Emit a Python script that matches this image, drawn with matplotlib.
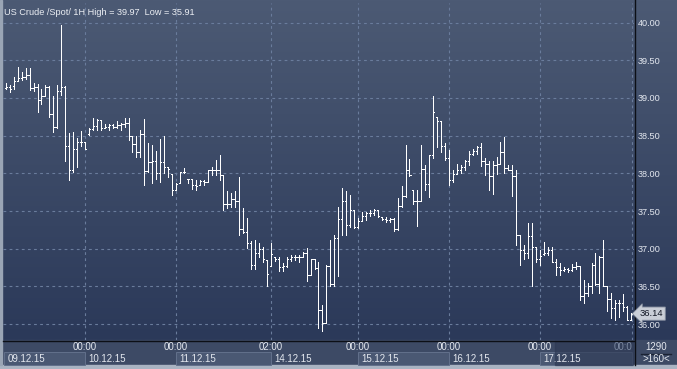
import numpy as np
import matplotlib.pyplot as plt
from matplotlib.collections import LineCollection
from matplotlib.patches import Rectangle
from matplotlib import transforms

plt.rcParams['font.family'] = ['Liberation Sans', 'DejaVu Sans']

# hourly OHLC, US Crude spot
opens = [39.13, 39.15, 39.16, 39.22, 39.26, 39.28, 39.30, 39.13, 39.15, 38.97,
         39.03, 39.15, 38.79, 38.61, 39.09, 39.15, 38.36, 38.05, 38.32, 38.41,
         38.41, 38.52, 38.59, 38.63, 38.71, 38.60, 38.62, 38.64, 38.62, 38.64,
         38.66, 38.67, 38.50, 38.39, 38.28, 38.52, 38.03, 38.15, 38.17, 38.00,
         38.15, 38.08, 37.99, 37.78, 37.87, 38.02, 37.93, 37.92, 37.84, 37.85,
         37.90, 37.89, 38.04, 38.04, 38.05, 37.98, 37.60, 37.60, 37.66, 37.64,
         37.26, 37.22, 37.07, 36.79, 36.95, 37.00, 36.85, 36.77, 36.89, 36.86,
         36.76, 36.77, 36.86, 36.89, 36.89, 36.89, 36.94, 36.65, 36.86, 36.74,
         36.19, 36.02, 36.77, 36.53, 37.14, 37.39, 37.64, 37.32, 37.51, 37.29,
         37.37, 37.43, 37.48, 37.47, 37.52, 37.42, 37.39, 37.38, 37.39, 37.26,
         37.57, 37.70, 38.04, 37.78, 37.64, 37.64, 38.06, 37.86, 38.25, 38.75,
         38.70, 38.36, 38.20, 37.91, 37.99, 38.05, 38.08, 38.16, 38.26, 38.30,
         38.35, 38.16, 38.13, 37.97, 38.11, 38.13, 38.29, 38.07, 38.05, 37.97,
         37.18, 36.99, 36.94, 37.17, 37.03, 36.86, 36.93, 36.95, 36.99, 36.83,
         36.76, 36.72, 36.73, 36.72, 36.76, 36.77, 36.37, 36.42, 36.50, 36.79,
         36.53, 36.89, 36.50, 36.33, 36.21, 36.28, 36.28, 36.23, 36.06]
highs = [39.20, 39.17, 39.28, 39.41, 39.35, 39.40, 39.40, 39.20, 39.18, 39.12,
         39.17, 39.16, 39.02, 39.17, 39.97, 39.16, 38.53, 38.55, 38.47, 38.56,
         38.41, 38.60, 38.74, 38.72, 38.71, 38.65, 38.66, 38.65, 38.70, 38.67,
         38.74, 38.73, 38.50, 38.49, 38.58, 38.72, 38.40, 38.37, 38.30, 38.45,
         38.49, 38.09, 37.99, 37.87, 38.02, 38.07, 37.93, 37.93, 37.91, 37.91,
         37.91, 38.05, 38.09, 38.18, 38.25, 37.98, 37.77, 37.74, 37.77, 37.95,
         37.54, 37.41, 37.10, 37.11, 37.07, 37.03, 36.85, 37.07, 36.89, 36.89,
         36.81, 36.89, 36.92, 36.92, 36.92, 36.96, 37.01, 36.87, 36.86, 36.83,
         36.26, 36.79, 37.11, 37.18, 37.56, 37.80, 37.76, 37.71, 37.52, 37.41,
         37.49, 37.49, 37.52, 37.53, 37.52, 37.42, 37.42, 37.41, 37.41, 37.67,
         37.83, 38.38, 38.19, 37.78, 37.78, 38.38, 38.11, 38.25, 39.03, 38.75,
         38.70, 38.40, 38.31, 38.05, 38.12, 38.11, 38.18, 38.30, 38.33, 38.36,
         38.40, 38.20, 38.16, 38.16, 38.22, 38.42, 38.48, 38.11, 38.11, 38.05,
         37.18, 37.05, 37.34, 37.34, 37.03, 36.99, 37.09, 37.03, 37.02, 36.86,
         36.81, 36.76, 36.74, 36.80, 36.83, 36.77, 36.59, 36.54, 36.81, 36.94,
         36.91, 37.11, 36.50, 36.41, 36.32, 36.32, 36.40, 36.24, 36.15]
lows = [39.12, 39.08, 39.12, 39.22, 39.24, 39.25, 39.11, 39.09, 38.81, 38.92,
        39.02, 38.75, 38.55, 38.60, 39.04, 38.16, 37.91, 38.02, 38.09, 38.36,
        38.32, 38.51, 38.57, 38.57, 38.58, 38.60, 38.58, 38.60, 38.60, 38.58,
        38.62, 38.44, 38.28, 38.22, 38.22, 37.85, 38.02, 37.87, 37.93, 37.89,
        38.00, 37.95, 37.71, 37.78, 37.87, 38.00, 37.87, 37.79, 37.78, 37.85,
        37.84, 37.89, 37.98, 37.98, 37.91, 37.52, 37.54, 37.56, 37.56, 37.18,
        37.21, 37.01, 36.73, 36.73, 36.89, 36.83, 36.51, 36.77, 36.84, 36.70,
        36.70, 36.76, 36.84, 36.85, 36.83, 36.89, 36.57, 36.65, 36.73, 35.95,
        35.91, 36.01, 36.50, 36.50, 36.64, 37.18, 37.18, 37.29, 37.27, 37.27,
        37.37, 37.38, 37.43, 37.45, 37.42, 37.38, 37.35, 37.35, 37.23, 37.25,
        37.55, 37.69, 37.96, 37.60, 37.30, 37.63, 37.78, 37.69, 38.21, 38.35,
        38.28, 38.18, 37.85, 37.89, 37.99, 38.01, 38.05, 38.11, 38.25, 38.26,
        38.10, 37.98, 37.78, 37.73, 37.99, 38.13, 38.01, 38.04, 37.70, 37.05,
        36.79, 36.87, 36.88, 36.50, 36.83, 36.79, 36.92, 36.92, 36.82, 36.65,
        36.65, 36.71, 36.69, 36.71, 36.73, 36.32, 36.28, 36.38, 36.42, 36.52,
        36.42, 36.50, 36.17, 36.08, 36.05, 36.10, 36.18, 36.05, 36.05]
closes = [39.15, 39.12, 39.22, 39.26, 39.28, 39.30, 39.13, 39.15, 38.97, 39.03,
          39.15, 38.79, 38.61, 39.09, 39.15, 38.36, 38.05, 38.32, 38.41, 38.41,
          38.32, 38.59, 38.63, 38.71, 38.60, 38.62, 38.64, 38.62, 38.64, 38.66,
          38.67, 38.50, 38.39, 38.28, 38.52, 38.03, 38.15, 38.17, 38.00, 38.15,
          38.08, 38.06, 37.78, 37.86, 38.02, 38.02, 37.92, 37.84, 37.83, 37.90,
          37.89, 38.04, 38.04, 38.05, 37.98, 37.60, 37.60, 37.66, 37.64, 37.26,
          37.22, 37.07, 36.79, 36.95, 37.00, 36.86, 36.66, 36.93, 36.86, 36.76,
          36.77, 36.86, 36.89, 36.89, 36.89, 36.94, 36.65, 36.86, 36.74, 36.19,
          36.02, 36.77, 36.53, 37.14, 37.39, 37.64, 37.32, 37.51, 37.29, 37.37,
          37.43, 37.48, 37.47, 37.52, 37.44, 37.39, 37.38, 37.39, 37.26, 37.57,
          37.70, 38.04, 37.98, 37.64, 37.64, 38.06, 37.86, 38.25, 38.81, 38.70,
          38.36, 38.20, 37.91, 37.99, 38.05, 38.08, 38.16, 38.26, 38.30, 38.35,
          38.16, 38.13, 37.97, 38.11, 38.13, 38.29, 38.07, 38.05, 37.97, 37.18,
          36.99, 36.94, 37.17, 37.03, 36.86, 36.91, 36.95, 36.99, 36.83, 36.76,
          36.72, 36.73, 36.72, 36.76, 36.77, 36.37, 36.42, 36.50, 36.79, 36.53,
          36.89, 36.50, 36.33, 36.21, 36.28, 36.28, 36.23, 36.06, 36.14]

# day separators (bar index) and labels
day_starts = [20, 43, 67, 89, 112, 135, 158.25]
time_labels = ['00:00', '00:00', '02:00', '00:00', '00:00', '00:00', '00:0']
day_labels = ['09.12.15', '10.12.15', '11.12.15', '14.12.15', '15.12.15', '16.12.15', '17.12.15']
price_ticks = [36.0, 36.5, 37.0, 37.5, 38.0, 38.5, 39.0, 39.5, 40.0]
last_price = 36.14

W, H = 677, 369
fig = plt.figure(figsize=(W / 100, H / 100), dpi=100)

# background in pixel coordinates
bg = fig.add_axes([0, 0, 1, 1])
bg.set_xlim(0, W)
bg.set_ylim(H, 0)
bg.axis('off')
grad = np.linspace(0, 1, 256).reshape(-1, 1)
top = np.array([76, 90, 116]) / 255
bot = np.array([43, 57, 89]) / 255
img = top + (bot - top) * grad[:, :, None]
bg.imshow(img, extent=[0, W, 340, 0], aspect='auto')
bg.add_patch(Rectangle((0, 340), W, 25, color='#3d4a65'))
bg.add_patch(Rectangle((0, 365), W, 4, color='#a9b3c2'))
bg.add_patch(Rectangle((0, 0), 2, 365, color='#9aa5b5'))
bg.plot([3, 634], [340.5, 340.5], color='#0c0f16', lw=1)
bg.plot([634.5, 634.5], [0, 365], color='#0c0f16', lw=1)

ax = fig.add_axes([3 / W, 29 / H, 631 / W, 337 / H])
ax.set_facecolor('none')
ax.set_xlim(-0.723, 158.74)
ax.set_ylim(35.79, 40.26)
for s in ax.spines.values():
    s.set_visible(False)

# grid
for p in price_ticks:
    ax.axhline(p, color='#6a7c9c', lw=0.8, ls=(0, (2.5, 3)), zorder=1)
for d in day_starts:
    ax.axvline(d, color='#6a7c9c', lw=0.8, ls=(0, (2.5, 3)), zorder=1)

# OHLC bars
idx = np.arange(len(closes))
tk = 0.3
segs = []
for i in idx:
    segs.append([(i, lows[i]), (i, highs[i])])
    segs.append([(i - tk, opens[i]), (i, opens[i])])
    segs.append([(i, closes[i]), (i + tk, closes[i])])
lc = LineCollection(segs, colors='white', linewidths=0.72, antialiased=False, zorder=3)
ax.add_collection(lc)

# price axis on the right
ax.yaxis.tick_right()
ax.set_yticks(price_ticks)
ax.set_yticklabels(['%.2f' % p for p in price_ticks], color='#e4e8ef', fontsize=6.6)
ax.tick_params(axis='y', length=0, pad=3)
ax.set_xticks([])

ax.text(0.002, 0.985, 'US Crude /Spot/ 1H High = 39.97  Low = 35.91', transform=ax.transAxes,
        color='#eceff4', fontsize=6.6, va='top', ha='left')

ax.annotate('%.2f' % last_price, xy=(1.0, last_price), xycoords=('axes fraction', 'data'),
            xytext=(4, 0), textcoords='offset points', va='center', ha='left',
            fontsize=6.8, color='#101522', annotation_clip=False,
            bbox=dict(boxstyle='larrow,pad=0.22', fc='#c9ced7', ec='#8a93a3', lw=0.6))

# time axis
trans = transforms.blended_transform_factory(ax.transData, bg.transData)
edges = [-0.55] + day_starts
for k, lab in enumerate(day_labels):
    x0 = edges[k]
    x1 = edges[k + 1] if k + 1 < len(edges) else 158.74
    if k % 2 == 0:
        bg.add_patch(Rectangle((x0, 352), x1 - x0, 13, transform=trans,
                               fc='#4a5873', ec='#62708b', lw=0.7))
    ax.text(x0 + 0.9, 359.5, lab, transform=trans, fontsize=7, color='#e4e8ef',
            ha='left', va='center')
for d, t in zip(day_starts, time_labels):
    c = '#e4e8ef' if t != '00:0' else '#7d8aa2'
    ax.text(d, 347.5, t, transform=trans, fontsize=7, color=c,
            ha='center' if t != '00:0' else 'right', va='center')
bg.add_patch(Rectangle((555, 341), 78, 24, color='#2e3a55', alpha=0.65))

bg.text(656, 347.5, '1290', fontsize=7, color='#e4e8ef', ha='center', va='center')
bg.plot([641, 671], [353.5, 353.5], color='#1a2233', lw=1)
bg.text(656, 359.5, '>160<', fontsize=7, color='#e4e8ef', ha='center', va='center')

fig.savefig('out.png', dpi=100)
